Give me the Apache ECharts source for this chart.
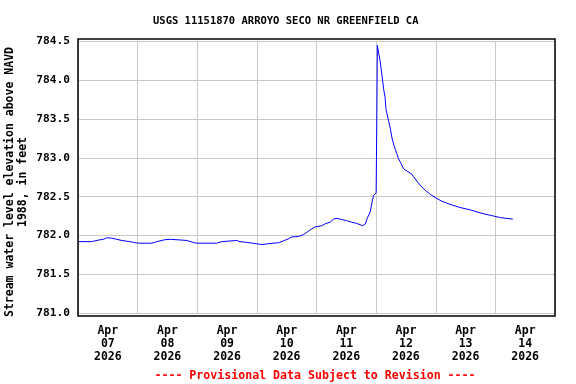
<!DOCTYPE html>
<html>
<head>
<meta charset="utf-8">
<script src="https://cdn.jsdelivr.net/npm/echarts@6/dist/echarts.min.js"></script>
<style>html,body{margin:0;padding:0;background:#fff;}#c{width:576px;height:384px;}</style>
</head>
<body>
<div id="c"></div>
<script>
// hours since Apr 07 2026 00:00
var hours = [0,5.5,8.2,10.2,11.5,13.6,15.6,17.6,20.9,22.3,24.3,29.7,31.7,35.0,37.1,41.8,43.8,46.4,47.8,55.8,57.9,58.5,63.9,65.2,67.9,71.3,74.0,75.3,77.3,80.7,82.7,84.7,86.0,88.7,90.7,92.1,93.4,95.4,98.1,99.5,101.5,102.8,104.2,106.2,108.2,110.2,112.2,114.6,115.6,116.4,117.6,118.3,118.9,120.0,120.25,120.5,120.75,121.0,121.6,122.0,122.6,123.0,123.6,124.0,125.0,125.7,126.3,127.0,127.7,128.3,129.0,130.0,131.0,132.4,134.4,135.0,136.4,137.7,139.8,141.8,144.2,146.5,149.8,153.8,157.9,161.9,165.9,170.0,175.0];
var levels = [781.92,781.92,781.94,781.95,781.97,781.965,781.95,781.935,781.92,781.91,781.90,781.90,781.92,781.945,781.95,781.94,781.935,781.91,781.90,781.90,781.92,781.935,781.935,781.92,781.91,781.895,781.883,781.887,781.896,781.905,781.93,781.956,781.98,781.986,782.01,782.04,782.07,782.11,782.125,782.15,782.17,782.21,782.22,782.205,782.19,782.17,782.155,782.125,782.145,782.22,782.30,782.42,782.51,782.55,783.4,784.45,784.43,784.35,784.25,784.15,784.0,783.89,783.78,783.62,783.48,783.38,783.27,783.18,783.11,783.055,782.99,782.93,782.86,782.83,782.79,782.76,782.70,782.65,782.58,782.53,782.48,782.44,782.40,782.36,782.33,782.29,782.26,782.23,782.21];
var xTickLabels = ['Apr\n07\n2026','Apr\n08\n2026','Apr\n09\n2026','Apr\n10\n2026','Apr\n11\n2026','Apr\n12\n2026','Apr\n13\n2026','Apr\n14\n2026'];
var titleText = 'USGS 11151870 ARROYO SECO NR GREENFIELD CA';
var yName = 'Stream water level elevation above NAVD\n1988, in feet';
var footText = '---- Provisional Data Subject to Revision ----';

var FONT = '"DejaVu Sans Mono", "Liberation Mono", monospace';
var data = hours.map(function(h, i){ return [h, levels[i]]; });

var chart = echarts.init(document.getElementById('c'), null, {renderer: 'canvas'});
chart.setOption({
  animation: false,
  backgroundColor: '#fff',
  title: {
    text: titleText, left: 153, top: 16, padding: 0,
    textStyle: {fontFamily: FONT, fontSize: 10.5, fontWeight: 'bold', color: '#000'}
  },
  grid: {left: 78, right: 21, top: 41.5, bottom: 71, containLabel: false, outerBoundsMode: 'none'},
  xAxis: [{
    type: 'value', min: 0, max: 192, interval: 24,
    axisLine: {show: false}, axisTick: {show: false}, axisLabel: {show: false},
    splitLine: {show: true, lineStyle: {color: '#c8c8c8', width: 1}}
  }, {
    type: 'value', min: 0, max: 192, interval: 12, position: 'bottom',
    axisLine: {show: false}, axisTick: {show: false}, splitLine: {show: false},
    axisLabel: {
      show: true, margin: 12, lineHeight: 13,
      fontFamily: FONT, fontSize: 11.5, fontWeight: 'bold', color: '#000',
      showMinLabel: false, showMaxLabel: false,
      formatter: function(v){
        if (v % 24 === 12) { var k = (v - 12) / 24; return xTickLabels[k] || ''; }
        return '';
      }
    }
  }],
  yAxis: {
    type: 'value', min: 781, max: 784.5, interval: 0.5,
    axisLine: {show: false}, axisTick: {show: false},
    axisLabel: {margin: 8, fontFamily: FONT, fontSize: 11.2, fontWeight: 'bold', color: '#000',
      formatter: function(v){ return v.toFixed(1); }},
    splitLine: {show: true, lineStyle: {color: '#c8c8c8', width: 1}}
  },
  series: [{
    type: 'line', xAxisIndex: 0, data: data, showSymbol: false, symbol: 'none',
    lineStyle: {color: '#0000ff', width: 1}, itemStyle: {color: '#0000ff'}
  }],
  graphic: [
    {type: 'rect', shape: {x: 78, y: 39, width: 477, height: 277}, z: 100,
     style: {fill: null, stroke: '#000', lineWidth: 1.5}},
    {type: 'text', x: 17, y: 182, rotation: Math.PI / 2, z: 100,
     style: {text: yName, fill: '#000', font: 'bold 11.5px ' + FONT, lineHeight: 13,
       textAlign: 'center', textVerticalAlign: 'middle', align: 'center', verticalAlign: 'middle'}},
    {type: 'text', x: 315, y: 376, z: 100,
     style: {text: footText, fill: '#ff0000', font: 'bold 11.6px ' + FONT, textAlign: 'center', textVerticalAlign: 'middle'}}
  ]
});
</script>
</body>
</html>
